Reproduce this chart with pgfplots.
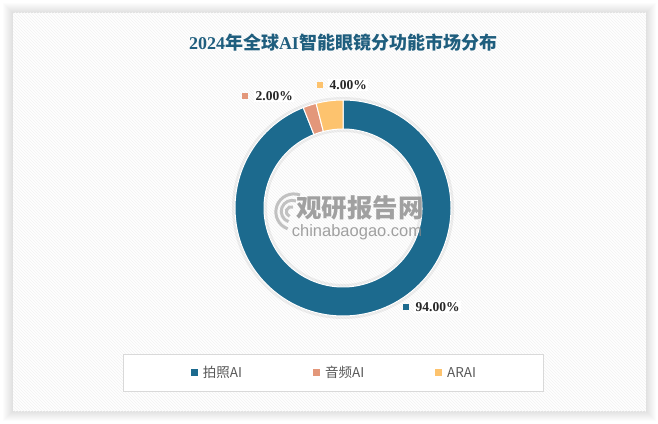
\documentclass[border=0pt]{standalone}
\usepackage{pgfplots}
\pgfplotsset{compat=1.18}
\usepackage{fontspec}
\setmainfont{Liberation Sans}
\newfontfamily\cjk{Noto Sans CJK SC}
\newfontfamily\serifl{Liberation Serif}
\usetikzlibrary{patterns}
\definecolor{cblue}{HTML}{1C6A8E}
\definecolor{csalmon}{HTML}{E3977A}
\definecolor{cyellow}{HTML}{FDC36E}
\definecolor{ctitle}{HTML}{1F5E7E}
\definecolor{clegtext}{HTML}{595959}
\definecolor{clegbox}{HTML}{D9D9D9}
\definecolor{cwm}{HTML}{8A8A8A}
\begin{document}
\begin{tikzpicture}
\path[use as bounding box] (0,0) rectangle (658pt,423pt);
% frame shadow
\foreach \i in {1,...,10}{
  \fill[black, opacity=0.012] (13pt-\i pt,12pt-\i pt) rectangle (646pt+\i pt,410pt+\i pt);
}
\fill[white] (13pt,12pt) rectangle (646pt,410pt);
\fill[pattern=north west lines, pattern color=gray!10] (13pt,12pt) rectangle (646pt,410pt);
\begin{axis}[
  x=1pt, y=1pt, xmin=0, xmax=658, ymin=0, ymax=423,
  hide axis, clip=false,
  legend columns=3,
  legend cell align=left,
  legend image code/.code={\fill[#1] (0pt,-3.5pt) rectangle (7pt,3.5pt);},
  legend style={at={(axis cs:333.5,50)}, anchor=center,
    draw=clegbox, line width=1.2pt, fill=white,
    inner xsep=67pt, inner ysep=12pt,
    font=\cjk\fontsize{13.5}{15}\selectfont, text=clegtext,
    nodes={inner sep=0pt},
    /tikz/every odd column/.style={column sep=5pt},
    /tikz/every even column/.style={column sep=71pt}},
]
% ring shadow
\fill[black, opacity=0.06, even odd rule] (axis cs:343,215) circle[radius=111pt] (axis cs:343,215) circle[radius=76pt];
% donut slices: values 94, 2, 4 (percent), clockwise from top
\fill[cblue, draw=white, line width=1pt]
  ([shift={(90:108pt)}]axis cs:343,215) arc[start angle=90, end angle={90-3.6*94}, radius=108pt]
  -- ([shift={({90-3.6*94}:79pt)}]axis cs:343,215) arc[start angle={90-3.6*94}, end angle=90, radius=79pt] -- cycle;
\fill[csalmon, draw=white, line width=1pt]
  ([shift={({90-3.6*94}:108pt)}]axis cs:343,215) arc[start angle={90-3.6*94}, end angle={90-3.6*(94+2)}, radius=108pt]
  -- ([shift={({90-3.6*(94+2)}:79pt)}]axis cs:343,215) arc[start angle={90-3.6*(94+2)}, end angle={90-3.6*94}, radius=79pt] -- cycle;
\fill[cyellow, draw=white, line width=1pt]
  ([shift={({90-3.6*(94+2)}:108pt)}]axis cs:343,215) arc[start angle={90-3.6*(94+2)}, end angle={90-3.6*(94+2+4)}, radius=108pt]
  -- ([shift={({90-3.6*(94+2+4)}:79pt)}]axis cs:343,215) arc[start angle={90-3.6*(94+2+4)}, end angle={90-3.6*(94+2)}, radius=79pt] -- cycle;
% watermark
\node[text=cwm, opacity=0.8, font=\cjk\bfseries\fontsize{25.5}{28}\selectfont] at (axis cs:360,215) {观研报告网};
\node[text=cwm, opacity=0.8, font=\fontsize{16.5}{18}\selectfont] at (axis cs:357,191) {chinabaogao.com};
\draw[cwm, opacity=0.5, line width=3pt] (axis cs:300,228) arc[start angle=70, end angle=250, radius=18pt];
\draw[cwm, opacity=0.5, line width=3pt] (axis cs:296,222) arc[start angle=70, end angle=250, radius=11pt];
\draw[cwm, opacity=0.5, line width=3pt] (axis cs:293,216) arc[start angle=70, end angle=250, radius=5pt];
% data labels
\fill[csalmon] (axis cs:242,324) rectangle (axis cs:248,330);
\node[fill=white, inner sep=1.5pt, anchor=west, text=black!85, font=\serifl\bfseries\fontsize{13.5}{15}\selectfont] at (axis cs:254,327) {2.00\%};
\fill[cyellow] (axis cs:317,335) rectangle (axis cs:323,341);
\node[fill=white, inner sep=1.5pt, anchor=west, text=black!85, font=\serifl\bfseries\fontsize{13.5}{15}\selectfont] at (axis cs:328,338) {4.00\%};
\fill[cblue] (axis cs:403,113) rectangle (axis cs:409,119);
\node[fill=white, inner sep=1.5pt, anchor=west, text=black!85, font=\serifl\bfseries\fontsize{13.5}{15}\selectfont] at (axis cs:414,116) {94.00\%};
% title
\node[text=ctitle, font=\fontsize{18}{21}\selectfont] at (axis cs:343,380) {\serifl\bfseries 2024\cjk 年全球\serifl AI\cjk 智能眼镜分功能市场分布};
% legend
\addlegendimage{fill=cblue, draw=none}
\addlegendentry{拍照AI}
\addlegendimage{fill=csalmon, draw=none}
\addlegendentry{音频AI}
\addlegendimage{fill=cyellow, draw=none}
\addlegendentry{ARAI}
\end{axis}
\end{tikzpicture}
\end{document}
